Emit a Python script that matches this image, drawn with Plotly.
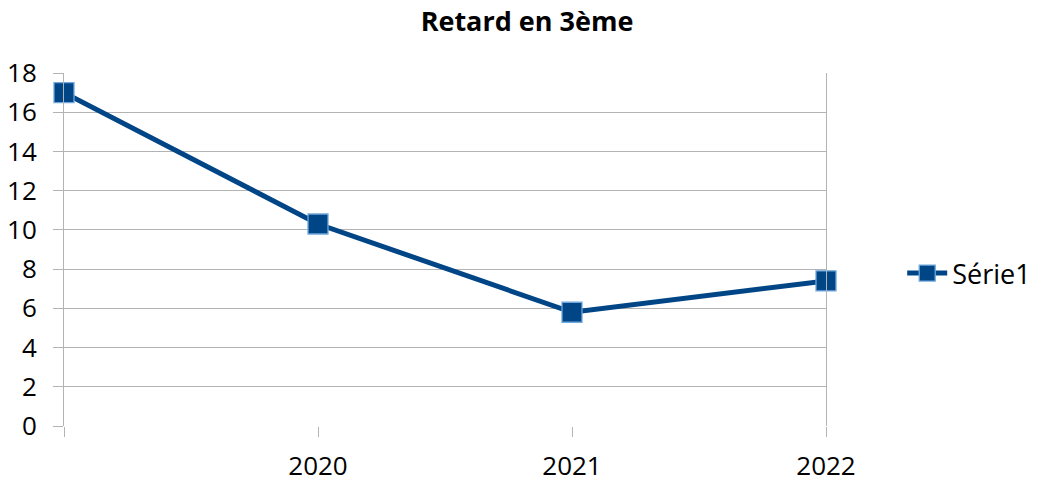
import plotly.graph_objects as go

x_labels = ["", "2020", "2021", "2022"]
x_pos = [0, 1, 2, 3]
values = [17.0, 10.3, 5.8, 7.4]
y_ticks = [0, 2, 4, 6, 8, 10, 12, 14, 16, 18]

FONT = "Open Sans, Noto Sans, sans-serif"

fig = go.Figure()
fig.add_trace(go.Scatter(
    x=x_pos, y=values, name="Série1", mode="lines+markers",
    line=dict(color="#004586", width=5),
    marker=dict(symbol="square", size=20, color="#004586",
                line=dict(color="#6fa8dc", width=1.3)),
    cliponaxis=False, hoverinfo="skip",
))

fig.update_layout(
    width=1037, height=483,
    paper_bgcolor="white", plot_bgcolor="white",
    margin=dict(l=64, r=211, t=73, b=57, autoexpand=False),
    title=dict(text="<b>Retard en 3ème</b>", x=527 / 1037, xref="container", xanchor="center",
               y=1 - 22 / 483, yref="container", yanchor="middle",
               font=dict(family=FONT, size=27, color="black")),
    font=dict(family=FONT, size=26, color="black"),
    showlegend=True,
    hovermode=False,
    legend=dict(x=1.1, y=0.432, xanchor="left", yanchor="middle",
                font=dict(family=FONT, size=27, color="black"),
                bgcolor="rgba(0,0,0,0)", itemwidth=40),
    xaxis=dict(
        range=[0, 3], tickmode="array", tickvals=x_pos, ticktext=x_labels,
        showgrid=False, zeroline=False, automargin=False,
        showline=False, ticks="outside", ticklen=10, tickcolor="#b3b3b3",
        tickfont=dict(family=FONT, size=26, color="black"),
        ticklabelstandoff=7,
    ),
    yaxis=dict(
        range=[0, 18], tickmode="array", tickvals=y_ticks,
        showgrid=True, gridcolor="#b3b3b3", gridwidth=1, automargin=False,
        zeroline=False, showline=True, linecolor="#b3b3b3", linewidth=1,
        mirror=True, ticks="outside", ticklen=10, tickcolor="#b3b3b3",
        tickfont=dict(family=FONT, size=26, color="black"),
        ticklabelstandoff=11,
    ),
)

fig.write_html(
    "out.html",
    config={"displayModeBar": False, "staticPlot": True},
    post_script="document.body.style.margin='0';document.body.style.overflow='hidden';",
)
